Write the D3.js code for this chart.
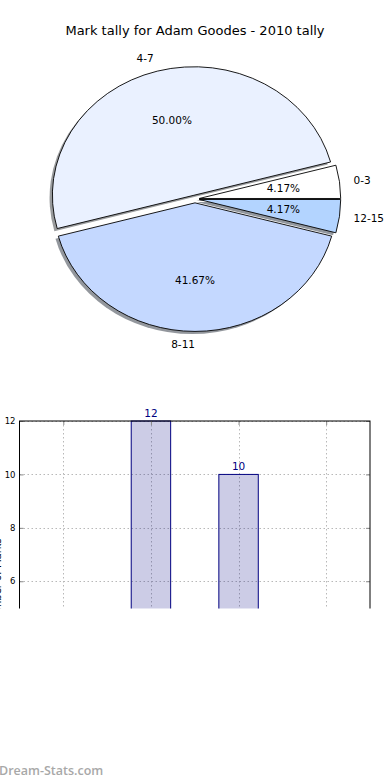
<!DOCTYPE html>
<html><head><meta charset="utf-8">
<script src="https://cdn.jsdelivr.net/npm/d3@7"></script>
<style>body{margin:0;background:#fff}svg{display:block}</style>
</head><body><svg id="c" width="390" height="780"></svg>
<script>
// ---- data ----
const categories = ["0-3", "4-7", "8-11", "12-15"];
const values = [1, 12, 10, 1];
const sliceColors = ["#ffffff", "#eaf1ff", "#c4d8ff", "#b3d4ff"];
const yTicks = [0, 2, 4, 6, 8, 10, 12];
const titleText = "Mark tally for Adam Goodes - 2010 tally";
const yLabelText = "Number of Marks";
const watermarkText = "Dream-Stats.com";

const svg = d3.select("#c");
svg.append("rect").attr("width", 390).attr("height", 780).attr("fill", "#fff");
const FONT = "'DejaVu Sans', sans-serif";

// ---- title ----
svg.append("text").attr("x", 195).attr("y", 34.5).attr("text-anchor", "middle")
  .attr("font-family", FONT).attr("font-size", 13).attr("fill", "#000").text(titleText);

// ---- pie (elliptical, exploded, shadowed) ----
const cx = 195, cy = 199, rx = 141.5, ry = 128.5, explode = 0.03;
const total = d3.sum(values);
const pie = d3.pie().sort(null).startAngle(Math.PI / 2).endAngle(Math.PI / 2 - 2 * Math.PI);
const arcs = pie(values);
const arcGen = d3.arc().innerRadius(0).outerRadius(1);
const pieG = svg.append("g").attr("transform", `translate(${cx},${cy})`);

function darken(c) {
  const r = d3.rgb(c);
  return d3.rgb(r.r * 0.3, r.g * 0.3, r.b * 0.3).toString();
}
const info = arcs.map((a, i) => {
  const m = (a.startAngle + a.endAngle) / 2;
  return { a, i, m, ox: explode * Math.sin(m), oy: -explode * Math.cos(m) };
});
// shadows first
info.forEach(d => {
  pieG.append("path").attr("d", arcGen(d.a))
    .attr("transform", `translate(${(d.ox - 0.02) * rx},${(d.oy + 0.02) * ry}) scale(${rx},${ry})`)
    .attr("fill", darken(sliceColors[d.i])).attr("fill-opacity", 0.55);
});
info.forEach(d => {
  pieG.append("path").attr("d", arcGen(d.a))
    .attr("transform", `translate(${d.ox * rx},${d.oy * ry}) scale(${rx},${ry})`)
    .attr("fill", sliceColors[d.i]).attr("stroke", "#000").attr("stroke-width", 0.9)
    .attr("vector-effect", "non-scaling-stroke");
});
info.forEach(d => {
  const lx = (1.1 * Math.sin(d.m) + d.ox) * rx, ly = (-1.1 * Math.cos(d.m) + d.oy) * ry;
  pieG.append("text").attr("x", lx).attr("y", ly).attr("dy", "0.35em")
    .attr("text-anchor", Math.sin(d.m) > 0 ? "start" : "end")
    .attr("font-family", FONT).attr("font-size", 10.5).text(categories[d.i]);
  const px = (0.6 * Math.sin(d.m) + d.ox) * rx, py = (-0.6 * Math.cos(d.m) + d.oy) * ry;
  pieG.append("text").attr("x", px).attr("y", py).attr("dy", "0.35em")
    .attr("text-anchor", "middle").attr("font-family", FONT).attr("font-size", 10.5)
    .text((values[d.i] / total * 100).toFixed(2) + "%");
});

// ---- bar chart (clipped at bottom) ----
const L = 19.5, R = 370, T = 421, B = 741.5;
const x = d3.scaleLinear().domain([-0.5, categories.length - 0.5]).range([L, R]);
const y = d3.scaleLinear().domain([0, 12]).range([B, T]);
svg.append("clipPath").attr("id", "clipB").append("rect")
  .attr("x", 0).attr("y", 395).attr("width", 390).attr("height", 213.5);
const bg = svg.append("g").attr("clip-path", "url(#clipB)");
const bw = 0.45;

// grid (under translucent bars)
const gridStyle = s => s.attr("stroke", "#b8b8b8").attr("stroke-width", 1).attr("stroke-dasharray", "1.5,2.5");
bg.append("g").selectAll("line").data(yTicks).join("line")
  .attr("x1", L).attr("x2", R).attr("y1", d => Math.round(y(d)) + 0.5).attr("y2", d => Math.round(y(d)) + 0.5)
  .call(gridStyle);
bg.append("g").selectAll("line").data(categories.map((c, i) => i)).join("line")
  .attr("y1", T).attr("y2", B).attr("x1", d => Math.round(x(d)) + 0.5).attr("x2", d => Math.round(x(d)) + 0.5)
  .call(gridStyle);

bg.selectAll("rect.bar").data(values).join("rect").attr("class", "bar")
  .attr("x", (v, i) => x(i - bw / 2)).attr("width", (v, i) => x(i + bw / 2) - x(i - bw / 2))
  .attr("y", v => y(v)).attr("height", v => y(0) - y(v))
  .attr("fill", "navy").attr("fill-opacity", 0.2)
  .attr("stroke", "navy").attr("stroke-width", 1);

// axes
const axL = bg.append("g").attr("transform", `translate(${L},0)`)
  .call(d3.axisLeft(y).tickValues(yTicks).tickSize(-4).tickPadding(4).tickFormat(d3.format("d")));
const axR = bg.append("g").attr("transform", `translate(${R},0)`)
  .call(d3.axisRight(y).tickValues(yTicks).tickSize(-4).tickFormat(""));
const axT = bg.append("g").attr("transform", `translate(0,${T})`)
  .call(d3.axisTop(x).tickValues(categories.map((c, i) => i)).tickSize(-4).tickFormat(""));
[axL, axR, axT].forEach(a => {
  a.select(".domain").remove();
  a.selectAll("line").attr("stroke", "#888");
  a.selectAll("text").attr("font-family", FONT).attr("font-size", 8.5).attr("fill", "#000");
});
bg.append("rect").attr("x", L).attr("y", T).attr("width", R - L).attr("height", B - T)
  .attr("fill", "none").attr("stroke", "#000").attr("stroke-width", 1);

// bar value labels
bg.selectAll("text.val").data(values).join("text").attr("class", "val")
  .attr("x", (v, i) => x(i)).attr("y", v => y(v) - 4).attr("text-anchor", "middle")
  .attr("font-family", FONT).attr("font-size", 10.5).attr("fill", "navy").text(v => v);

// y label (mostly cut off at the left edge, as in the reference)
bg.append("text").attr("transform", `translate(1,${(T + B) / 2}) rotate(-90)`)
  .attr("text-anchor", "middle").attr("font-family", FONT).attr("font-size", 10).text(yLabelText);

// watermark
svg.append("text").attr("x", -1).attr("y", 775).attr("font-family", "'Open Sans', sans-serif")
  .attr("font-size", 12.5).attr("font-weight", 600).attr("fill", "#a8a8a8").text(watermarkText);
</script></body></html>
